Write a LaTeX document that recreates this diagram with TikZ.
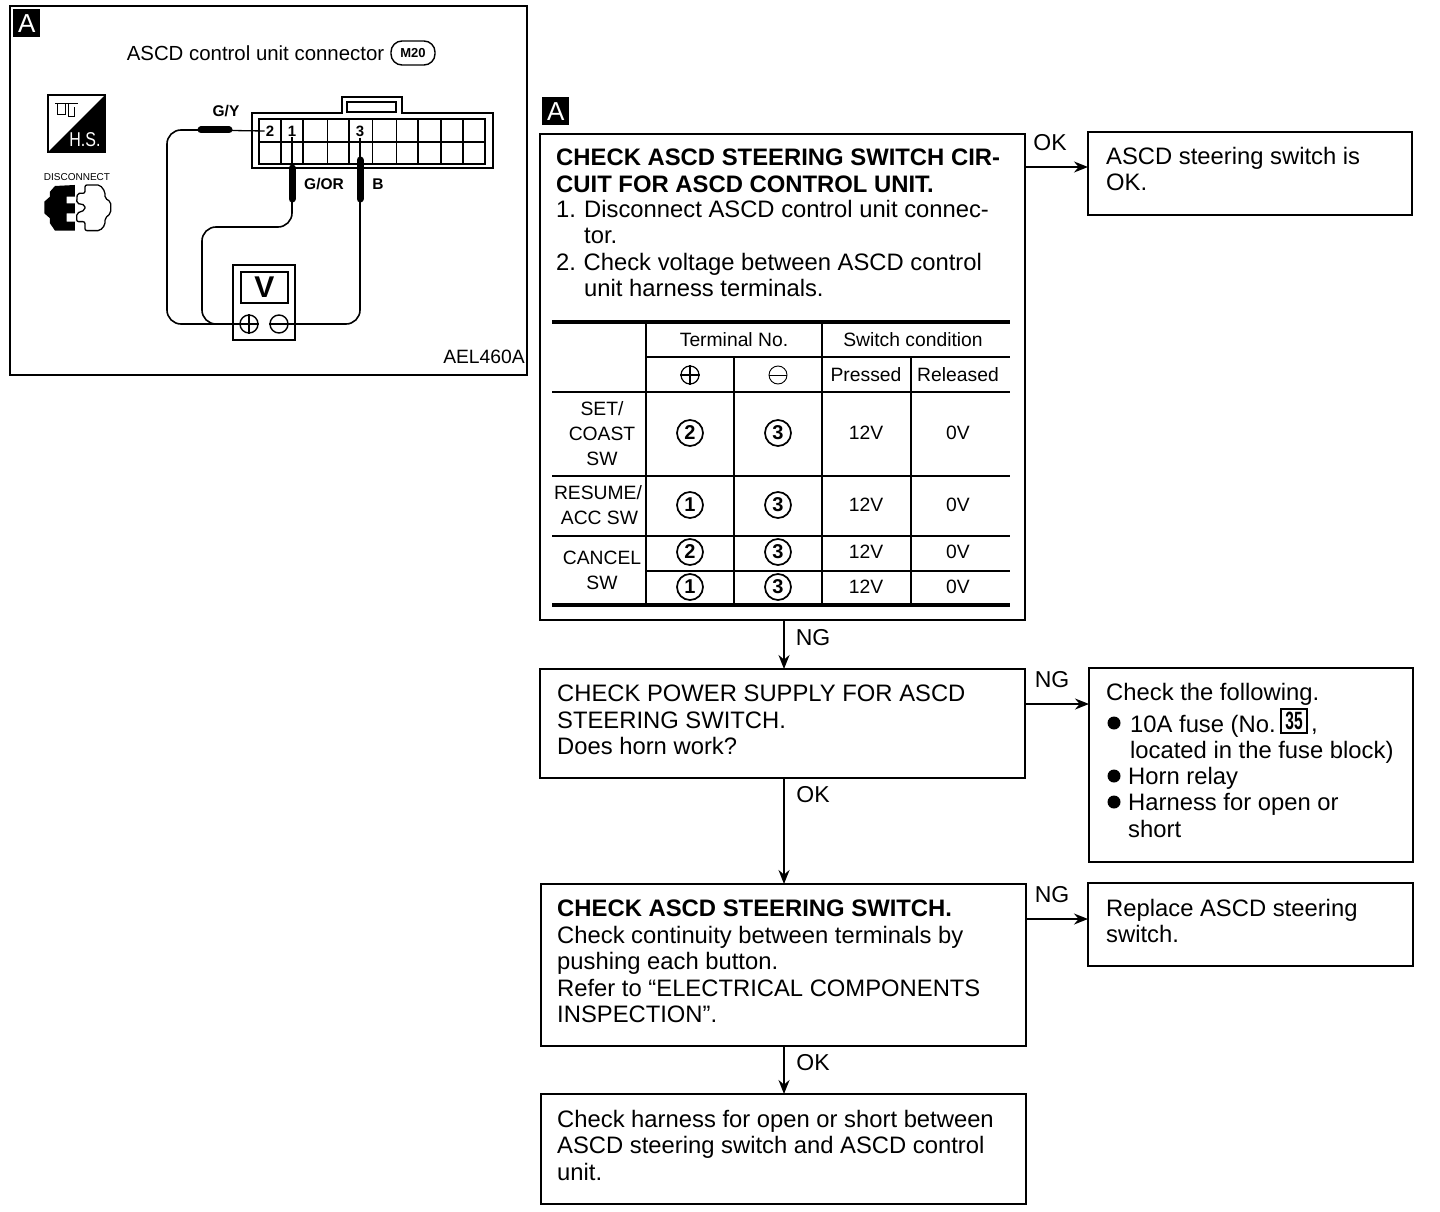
\documentclass[tikz,border=0pt]{standalone}
\usepackage{fontspec}
\setmainfont{Liberation Sans}
\usetikzlibrary{arrows.meta}
\tikzset{
 x=1pt,y=-1pt,
 bx/.style={draw,line width=2pt,anchor=north west,inner sep=0pt,outer sep=0pt},
 body/.style={anchor=north west,inner sep=0pt,align=left,font=\fontsize{23.8}{26.4}\selectfont},
 boldbody/.style={body,font=\bfseries\fontsize{23.85}{26.2}\selectfont},
 tb/.style={inner sep=0pt,align=center,font=\fontsize{19.3}{25}\selectfont},
 lab/.style={inner sep=0pt,font=\fontsize{23}{26}\selectfont},
 small/.style={inner sep=0pt,font=\bfseries\fontsize{15.5}{16}\selectfont},
 pin/.style={fill=white,inner sep=1pt,font=\bfseries\fontsize{15}{15}\selectfont},
 arr/.style={line width=1.6pt,-{Stealth[length=14pt,width=11pt]}},
 cn/.style={circle,draw,line width=1.7pt,minimum size=26pt,inner sep=0pt,font=\bfseries\fontsize{20}{20}\selectfont},
 tag/.style={fill=black,text=white,anchor=north west,inner sep=0pt,minimum width=27pt,minimum height=28pt,font=\fontsize{26}{26}\selectfont},
 thickrule/.style={line width=3.6pt},
 rule/.style={line width=1.6pt},
 wire/.style={line width=1.6pt,rounded corners=14pt},
 probe/.style={line width=7pt,line cap=round},
 bullet/.style={circle,fill=black,minimum size=13pt,inner sep=0pt},
 term/.style={circle,draw,line width=1.4pt,minimum size=18pt,inner sep=0pt,fill=white},
}
\begin{document}
\begin{tikzpicture}
\useasboundingbox (0,0) rectangle (1440,1212);
\fill[white] (0,0) rectangle (1440,1212);
% left panel
\node[bx,line width=1.5pt,minimum width=517pt,minimum height=369pt] (panel) at (10,6) {};
\node[tag] (tagL) at (13,9) {A};
\node[inner sep=0pt,font=\fontsize{20.4}{21}\selectfont] (title) at (255.5,53) {ASCD control unit connector};
\node[draw,line width=1.4pt,rounded corners=11pt,minimum width=44pt,minimum height=24pt,inner sep=0pt,font=\bfseries\fontsize{13}{13}\selectfont] (m20) at (413,53) {M20};
% H.S. icon
\draw[line width=1.2pt] (48,95) rectangle (105,152);
\fill[black] (105,95) -- (105,152) -- (48,152) -- cycle;
\node[text=white,inner sep=0pt,font=\fontsize{20}{20}\selectfont] (hs) at (85,140) {\scalebox{.8}[1]{H.S.}};
\draw[line width=1pt] (55,104) -- (78,104) (57,104) -- (57,115) -- (65,115) -- (65,104) (68,104) -- (68,117) -- (74,117) -- (74,107);
% disconnect icon
\node[inner sep=0pt,font=\fontsize{10}{10}\selectfont] (disc) at (77,177) {DISCONNECT};
\begin{scope}[x=.3333pt,y=-.3333pt]
\fill[black] (150,575) -- (165,558) -- (225,555) -- (225,590) -- (200,590) -- (200,610) -- (225,610) -- (225,640) -- (200,640) -- (200,665) -- (225,665) -- (225,692) -- (165,692) -- (150,670) -- (150,655) -- (133,640) -- (133,605) -- (150,590) -- cycle;
\draw[line width=1.3pt,rounded corners=2pt] (232,580) -- (255,580) -- (255,555) -- (300,555) -- (315,575) -- (315,595) -- (332,605) -- (332,640) -- (315,655) -- (315,675) -- (300,692) -- (255,692) -- (255,665) -- (230,665) -- (230,640) -- (255,630) -- (255,615) -- (230,610) -- cycle;
\end{scope}
% connector
\draw[line width=1.8pt] (252,113) -- (342,113) -- (342,97) -- (402,97) -- (402,113) -- (493,113) -- (493,168) -- (252,168) -- cycle;
\draw[line width=1.4pt] (347,102) rectangle (396,112);
\draw[line width=1.5pt] (259,119) rectangle (485,164) (259,142) -- (485,142);
\foreach \vx/\vw in {281/1.3,303/2.2,327/.8,349/1.2,372/.8,396/.8,418/1.6,441/1.3,463/1.3}
  \draw[line width=\vw pt] (\vx,119) -- (\vx,164);
\node[pin] (p2) at (270,131) {2};
\node[pin] (p1) at (292,131) {1};
\node[pin] (p3) at (360,131) {3};
\node[small] (gy) at (226,111) {G/Y};
\node[small] (gor) at (324,184) {G/OR};
\node[small] (lb) at (378,184) {B};
\node[inner sep=0pt,anchor=east,font=\fontsize{19.3}{20}\selectfont] (ael) at (525,357) {AEL460A};
% meter
\node[bx,minimum width=62pt,minimum height=75pt] (meter) at (233,265) {};
\node[bx,minimum width=47pt,minimum height=31pt,font=\bfseries\fontsize{30}{30}\selectfont] (disp) at (241,272) {V};
\node[term] (plus) at (249,324) {};
\node[term] (minus) at (279,324) {};
\draw[line width=1.2pt] (plus.west) -- (plus.east) (plus.north) -- (plus.south) (minus.west) -- (minus.east);
% wires
\coordinate (gyTip) at (p2.west);
\draw[line width=1.3pt] (gyTip) -- (199,130);
\draw[probe] (201,130) -- (229,130);
\draw[wire] (199,130) -- (167,130) -- (167,324) -- (plus.west);
\draw[line width=1.3pt] (p1.south) -- (292,200);
\draw[probe] (292,168) -- (292,199);
\draw[wire] (292,200) -- (292,227) -- (202,227) -- (202,324) -- (plus.west);
\draw[line width=1.3pt] (p3.south) -- (360,200);
\draw[probe] (360,160) -- (360,199);
\draw[wire] (360,200) -- (360,324) -- (minus.east);
% tag 2
\node[tag] (tagR) at (542,97) {A};
% boxes
\node[bx,minimum width=485pt,minimum height=486pt] (b1) at (540,134) {};
\node[bx,minimum width=324pt,minimum height=83pt] (ok1) at (1088,132) {};
\node[bx,minimum width=485pt,minimum height=109pt] (b2) at (540,669) {};
\node[bx,minimum width=324pt,minimum height=194pt] (r2) at (1089,668) {};
\node[bx,minimum width=485pt,minimum height=162pt] (b3) at (541,884) {};
\node[bx,minimum width=325pt,minimum height=83pt] (r3) at (1088,883) {};
\node[bx,minimum width=485pt,minimum height=110pt] (b4) at (541,1094) {};
% connectors
\draw[arr] (b1.east |- 0,167) -- (ok1.west |- 0,167);
\draw[arr] (784,620) -- (b2.north -| 784,0);
\draw[arr] (b2.east |- 0,704) -- (r2.west |- 0,704);
\draw[arr] (784,778) -- (b3.north -| 784,0);
\draw[arr] (b3.east |- 0,919) -- (r3.west |- 0,919);
\draw[arr] (784,1046) -- (b4.north -| 784,0);
\node[lab] (l1) at (1050,143) {OK};
\node[lab] (l2) at (813,638) {NG};
\node[lab] (l3) at (1052,680) {NG};
\node[lab] (l4) at (813,795) {OK};
\node[lab] (l5) at (1052,895) {NG};
\node[lab] (l6) at (813,1063) {OK};
% box text
\node[boldbody] (t1a) at (556,149) {CHECK ASCD STEERING SWITCH CIR-\\CUIT FOR ASCD CONTROL UNIT.};
\node[body] (t1b) at (556,200) {\makebox[28pt][l]{1.}Disconnect ASCD control unit connec-\\\hspace*{28pt}tor.\\\makebox[27.5pt][l]{2.}Check voltage between ASCD control\\\hspace*{28pt}unit harness terminals.};
\node[body] (t2) at (1106,147) {ASCD steering switch is\\OK.};
\node[body] (t3) at (557,685) {CHECK POWER SUPPLY FOR ASCD\\STEERING SWITCH.\\Does horn work?};
\node[body] (t4) at (1106,683) {Check the following.};
\node[bullet] (bu1) at (1114,723) {};
\node[bullet] (bu2) at (1114,776) {};
\node[bullet] (bu3) at (1114,802) {};
\node[body] (t5) at (1130,715) {10A fuse (No.\\located in the fuse block)};
\node[draw,line width=1.3pt,inner sep=1pt,minimum width=26pt,minimum height=24pt,font=\bfseries\fontsize{25}{25}\selectfont] (f35) at (1294,721) {\scalebox{.62}[1]{35}};
\node[body] (t5c) at (1311,715) {\vphantom{X},};
\node[body] (t6) at (1128,767) {Horn relay\\Harness for open or\\short};
\node[boldbody] (t7a) at (557,900) {CHECK ASCD STEERING SWITCH.};
\node[body] (t7) at (557,926) {Check continuity between terminals by\\pushing each button.\\Refer to “ELECTRICAL COMPONENTS\\INSPECTION”.};
\node[body] (t8) at (1106,899) {Replace ASCD steering\\switch.};
\node[body] (t9) at (557,1110) {Check harness for open or short between\\ASCD steering switch and ASCD control\\unit.};
% table rules
\draw[thickrule] (552,322) -- (1010,322);
\draw[thickrule] (552,605) -- (1010,605);
\draw[rule] (646,357) -- (1010,357);
\draw[line width=2.2pt] (552,392) -- (1010,392);
\draw[line width=2.2pt] (552,476) -- (1010,476);
\draw[line width=2.2pt] (552,536) -- (1010,536);
\draw[rule] (646,571) -- (1010,571);
\draw[line width=2pt] (646,322) -- (646,605);
\draw[rule] (734,357) -- (734,605);
\draw[rule] (822,322) -- (822,605);
\draw[rule] (911,357) -- (911,605);
% table text
\node[tb] (h1) at (734,339.5) {Terminal No.};
\node[tb] (h2) at (913,339.5) {Switch condition};
\node[circle,draw,line width=1.2pt,minimum size=18pt,inner sep=0pt] (hp) at (690,375) {};
\draw[line width=1.2pt] (hp.west) -- (hp.east) (hp.north) -- (hp.south);
\node[circle,draw,line width=.9pt,minimum size=18pt,inner sep=0pt] (hm) at (778,375) {};
\draw[line width=.9pt] (hm.west) -- (hm.east);
\node[tb] (h3) at (866,374.5) {Pressed};
\node[tb] (h4) at (958,374.5) {Released};
\node[tb] (s1) at (602,434) {SET/\\COAST\\SW};
\node[tb] (s2) at (598,505.5) {RESUME/\\\hspace*{3pt}ACC SW};
\node[tb] (s3) at (602,570.5) {CANCEL\\SW};
\foreach \nm/\yy/\pa in {r1/433/2,r2/505/1,r3/552/2,r4/587/1}{
  \node[cn] (\nm a) at (690,\yy) {\pa};
  \node[cn] (\nm b) at (778,\yy) {3};
  \node[tb] (\nm c) at (866,\yy) {12V};
  \node[tb] (\nm d) at (958,\yy) {0V};
}
\end{tikzpicture}
\end{document}
